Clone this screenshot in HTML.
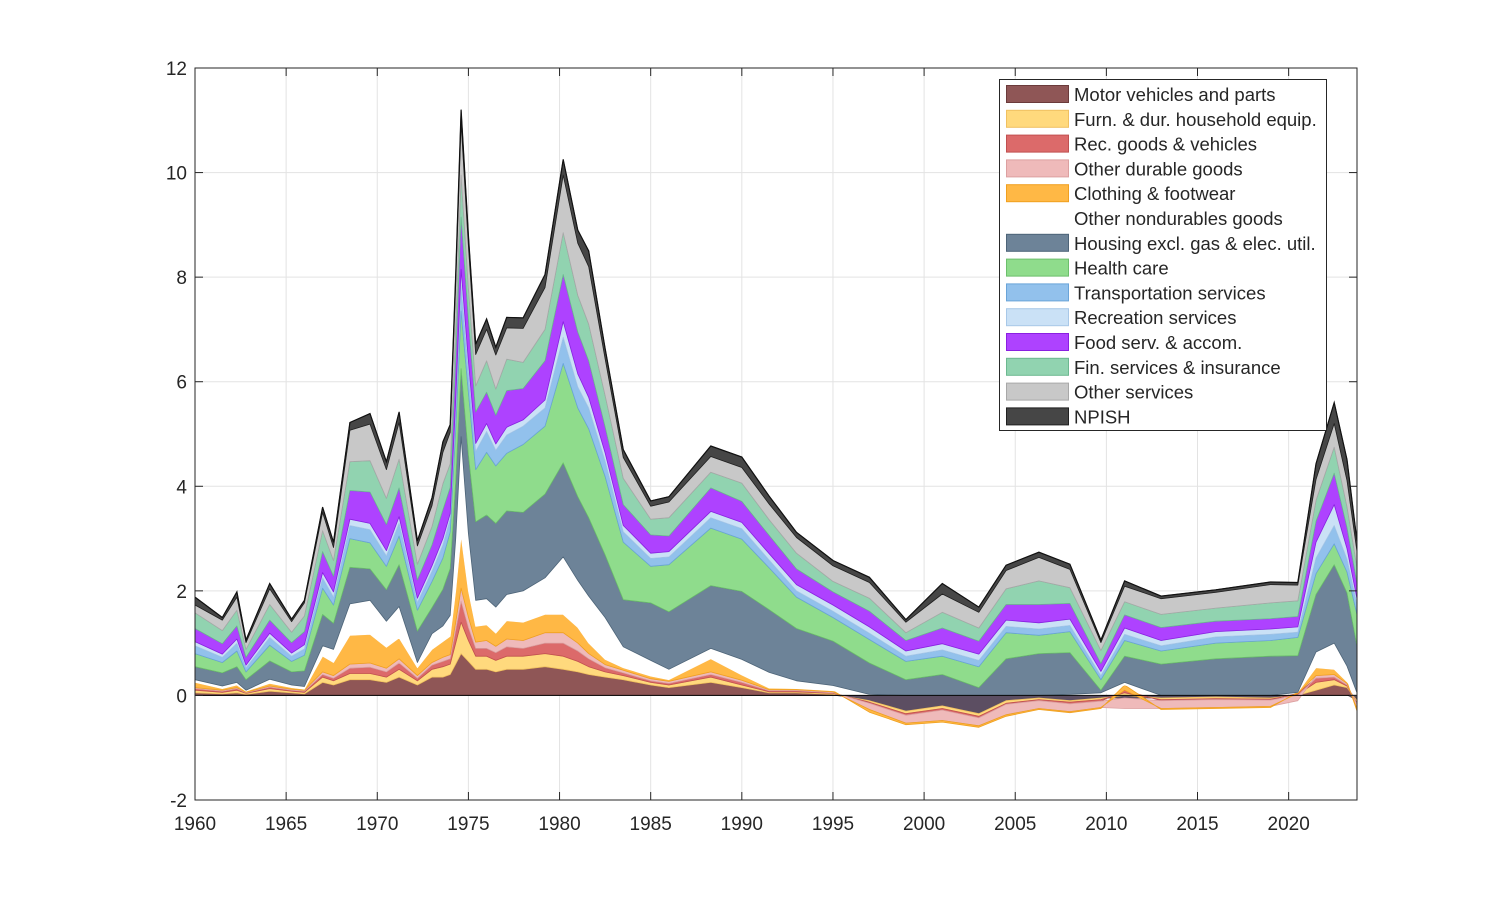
<!DOCTYPE html>
<html><head><meta charset="utf-8"><style>
html,body{margin:0;padding:0;background:#fff;}
svg text{font-family:"Liberation Sans",Arial,sans-serif;fill:#262626;}
</style></head><body>
<svg id="chart" width="1500" height="900" xmlns="http://www.w3.org/2000/svg">
<rect x="0" y="0" width="1500" height="900" fill="#fff"/>
<g id="grid"></g>
<g id="areas"></g>
<g id="axes"></g>
<g id="legend"></g>
</svg>
<script>
const dates=[1960,1961.5,1962.3,1962.8,1964.1,1965.3,1966.0,1967.0,1967.6,1968.5,1969.6,1970.5,1971.2,1972.2,1973.0,1973.6,1974.0,1974.3,1974.6,1975.0,1975.4,1976.0,1976.5,1977.1,1978.0,1979.2,1980.2,1981.0,1981.6,1982.5,1983.5,1985.0,1986.0,1988.3,1990.0,1991.5,1993.0,1995.0,1997.0,1999.0,2001.0,2003.0,2004.5,2006.3,2008.0,2009.7,2011.0,2013.0,2016.0,2019.0,2020.5,2021.5,2022.5,2023.2,2023.75];
const motor=[0.05,0.03,0.05,0.02,0.08,0.05,0.03,0.25,0.2,0.3,0.3,0.25,0.35,0.2,0.35,0.35,0.4,0.6,0.8,0.65,0.5,0.5,0.45,0.5,0.5,0.55,0.5,0.45,0.4,0.35,0.3,0.2,0.15,0.25,0.15,0.05,0.05,0.02,-0.1,-0.3,-0.2,-0.35,-0.1,-0.05,-0.1,-0.05,-0.05,-0.05,-0.03,-0.05,0.0,0.1,0.2,0.15,-0.1];
const furn=[0.05,0.03,0.05,0.02,0.05,0.03,0.03,0.1,0.08,0.12,0.12,0.1,0.15,0.08,0.15,0.2,0.2,0.4,0.6,0.4,0.25,0.25,0.22,0.25,0.25,0.25,0.25,0.2,0.15,0.1,0.08,0.05,0.05,0.1,0.05,0.02,0.02,0.02,-0.03,-0.05,-0.05,-0.05,-0.05,-0.03,-0.03,-0.03,0.05,-0.03,-0.03,-0.02,0.02,0.15,0.1,0.03,-0.05];
const recGoods=[0.03,0.02,0.03,0.01,0.03,0.02,0.02,0.05,0.05,0.1,0.12,0.1,0.12,0.05,0.08,0.1,0.1,0.25,0.4,0.25,0.15,0.15,0.15,0.18,0.15,0.2,0.25,0.2,0.15,0.08,0.05,0.03,0.03,0.05,0.05,0.02,0.02,0.01,-0.02,-0.03,-0.03,-0.03,-0.02,-0.02,-0.03,-0.03,0.05,-0.02,-0.02,-0.02,0.02,0.08,0.05,0.02,-0.02];
const otherDur=[0.02,0.02,0.02,0.01,0.02,0.02,0.02,0.05,0.05,0.08,0.08,0.07,0.08,0.05,0.05,0.08,0.08,0.15,0.25,0.2,0.12,0.15,0.12,0.15,0.15,0.2,0.2,0.15,0.1,0.06,0.05,0.04,0.04,0.05,0.04,0.02,0.02,0.02,-0.12,-0.15,-0.2,-0.15,-0.2,-0.15,-0.15,-0.12,-0.2,-0.15,-0.15,-0.12,-0.1,0.05,0.05,0.03,-0.08];
const clothing=[0.1,0.03,0.05,0.02,0.05,0.03,0.02,0.3,0.25,0.55,0.55,0.4,0.4,0.15,0.25,0.3,0.35,0.6,1.0,0.5,0.3,0.3,0.25,0.35,0.35,0.35,0.35,0.3,0.2,0.1,0.05,0.05,0.03,0.25,0.1,0.03,0.02,0.02,-0.05,-0.03,-0.03,-0.03,-0.03,-0.02,-0.02,-0.02,0.1,-0.02,-0.02,-0.02,0.02,0.15,0.1,0.03,-0.05];
const otherNondur=[0.05,0.05,0.05,0.02,0.08,0.05,0.05,0.2,0.25,0.6,0.65,0.5,0.6,0.1,0.3,0.3,0.4,1.0,1.9,1.1,0.5,0.5,0.5,0.5,0.6,0.7,1.1,0.9,0.9,0.8,0.4,0.3,0.2,0.2,0.3,0.3,0.15,0.1,0.02,0,0,0,0,0,0.02,0.05,0.05,0,0,0,0,0.3,0.5,0.3,0.05];
const housing=[0.25,0.25,0.3,0.2,0.35,0.25,0.3,0.6,0.5,0.7,0.6,0.6,0.8,0.6,0.5,0.7,0.9,1.1,1.3,1.5,1.5,1.6,1.6,1.6,1.5,1.6,1.8,1.6,1.5,1.2,0.9,1.1,1.1,1.2,1.3,1.2,1.0,0.85,0.6,0.3,0.4,0.15,0.7,0.8,0.8,0.05,0.5,0.6,0.7,0.75,0.7,1.1,1.5,1.4,0.9];
const health=[0.25,0.2,0.3,0.15,0.3,0.2,0.3,0.5,0.35,0.55,0.5,0.45,0.55,0.4,0.5,0.6,0.7,1.0,1.1,1.2,1.0,1.2,1.1,1.1,1.3,1.3,1.9,1.7,1.7,1.5,1.1,0.7,0.9,1.1,1.0,0.8,0.6,0.45,0.45,0.35,0.35,0.4,0.5,0.35,0.4,0.2,0.3,0.25,0.3,0.3,0.35,0.4,0.4,0.4,0.6];
const transport=[0.15,0.1,0.15,0.08,0.15,0.1,0.12,0.2,0.15,0.25,0.25,0.2,0.25,0.15,0.2,0.25,0.25,0.35,0.5,0.4,0.35,0.4,0.3,0.35,0.35,0.35,0.5,0.4,0.4,0.3,0.2,0.15,0.15,0.2,0.2,0.15,0.12,0.12,0.12,0.1,0.12,0.12,0.12,0.12,0.12,0.08,0.12,0.1,0.12,0.12,0.1,0.3,0.35,0.25,0.2];
const recServ=[0.08,0.06,0.08,0.05,0.08,0.06,0.08,0.1,0.1,0.12,0.12,0.1,0.12,0.08,0.1,0.12,0.1,0.2,0.3,0.2,0.15,0.15,0.12,0.15,0.12,0.15,0.3,0.25,0.2,0.15,0.12,0.1,0.1,0.12,0.12,0.12,0.12,0.12,0.12,0.1,0.12,0.12,0.12,0.12,0.12,0.08,0.12,0.1,0.1,0.1,0.1,0.3,0.4,0.2,0.1];
const food=[0.25,0.2,0.25,0.15,0.25,0.2,0.25,0.4,0.3,0.55,0.6,0.5,0.55,0.35,0.4,0.55,0.5,0.8,1.0,0.8,0.6,0.6,0.55,0.7,0.6,0.75,0.9,0.8,0.7,0.5,0.4,0.35,0.3,0.45,0.4,0.35,0.3,0.25,0.3,0.2,0.3,0.25,0.3,0.35,0.3,0.15,0.25,0.25,0.2,0.2,0.2,0.4,0.6,0.4,0.3];
const finServ=[0.3,0.25,0.3,0.15,0.3,0.2,0.3,0.4,0.3,0.55,0.6,0.5,0.55,0.3,0.35,0.5,0.45,0.6,0.8,0.6,0.5,0.6,0.5,0.6,0.5,0.6,0.8,0.7,0.7,0.6,0.5,0.3,0.35,0.3,0.35,0.3,0.3,0.2,0.25,0.15,0.3,0.25,0.3,0.45,0.3,0.25,0.25,0.25,0.25,0.3,0.3,0.4,0.5,0.4,0.3];
const otherServ=[0.15,0.2,0.25,0.13,0.3,0.2,0.25,0.35,0.25,0.6,0.7,0.55,0.7,0.35,0.4,0.6,0.6,0.8,1.0,0.8,0.6,0.6,0.65,0.6,0.65,0.8,1.1,1.0,1.1,0.7,0.4,0.25,0.3,0.3,0.3,0.3,0.3,0.3,0.3,0.2,0.35,0.3,0.35,0.45,0.35,0.15,0.3,0.3,0.3,0.35,0.3,0.4,0.45,0.5,0.3];
const npish=[0.15,0.05,0.1,0.05,0.1,0.05,0.05,0.1,0.1,0.15,0.2,0.15,0.2,0.1,0.15,0.2,0.15,0.2,0.25,0.2,0.2,0.2,0.15,0.2,0.2,0.25,0.3,0.25,0.3,0.2,0.15,0.1,0.1,0.2,0.2,0.15,0.1,0.1,0.1,0.05,0.2,0.1,0.1,0.1,0.1,0.05,0.1,0.05,0.05,0.05,0.05,0.3,0.4,0.4,0.2];
const seriesNames=["Motor vehicles and parts","Furn. & dur. household equip.","Rec. goods & vehicles","Other durable goods","Clothing & footwear","Other nondurables goods","Housing excl. gas & elec. util.","Health care","Transportation services","Recreation services","Food serv. & accom.","Fin. services & insurance","Other services","NPISH"];
const xTicks=[1960,1965,1970,1975,1980,1985,1990,1995,2000,2005,2010,2015,2020];
const yTicks=[-2,0,2,4,6,8,10,12];

const series=[motor,furn,recGoods,otherDur,clothing,otherNondur,housing,health,transport,recServ,food,finServ,otherServ,npish];
const colors=["#8f5656","#ffd97d","#dc6a6a","#efbaba","#ffb845","#ffffff","#6d8398","#8fdc8c","#92c1ec","#cae1f6","#ae42ff","#91d3b0","#c8c8c8","#464646"];
const edges=["#6b3b3b","#f0c060","#c05050","#dca0a0","#f0a020","#ffffff","#4d6478","#6cbf6c","#6aa4d8","#a8c8e8","#8a20e0","#6cb890","#a8a8a8","#202020"];
const keys=["motor-vehicles","furn-household-equip","rec-goods","other-durable-goods","clothing-footwear","other-nondurables","housing","health-care","transportation-services","recreation-services","food-services","fin-services","other-services","npish"];

const L=195,R=1357,T=68,B=800,X0=1960,X1=2023.75,Y0=-2,Y1=12;
const sx=v=>L+(v-X0)/(X1-X0)*(R-L);
const sy=v=>B-(v-Y0)/(Y1-Y0)*(B-T);
const NS="http://www.w3.org/2000/svg";
function mk(tag,attrs,parent){const e=document.createElementNS(NS,tag);for(const k in attrs)e.setAttribute(k,attrs[k]);parent.appendChild(e);return e;}

const grid=document.getElementById('grid');
xTicks.forEach(t=>{const l=mk('line',{x1:sx(t),x2:sx(t),y1:T,y2:B,stroke:'#e3e3e3','stroke-width':1},grid);

});
yTicks.forEach(t=>{const l=mk('line',{x1:L,x2:R,y1:sy(t),y2:sy(t),stroke:'#e3e3e3','stroke-width':1},grid);

});

const areas=document.getElementById('areas');
const n=dates.length;
let posBase=new Array(n).fill(0),negBase=new Array(n).fill(0);
series.forEach((s,i)=>{
  const lo=[],hi=[];
  for(let j=0;j<n;j++){
    const v=s[j];
    if(v>=0){lo.push(posBase[j]);hi.push(posBase[j]+v);posBase[j]+=v;}
    else{lo.push(negBase[j]);hi.push(negBase[j]+v);negBase[j]+=v;}
  }
  let d='M'+dates.map((t,j)=>sx(t).toFixed(1)+','+sy(hi[j]).toFixed(1)).join('L');
  for(let j=n-1;j>=0;j--)d+='L'+sx(dates[j]).toFixed(1)+','+sy(lo[j]).toFixed(1);
  d+='Z';
  const p=mk('path',{d:d,fill:colors[i],stroke:edges[i],'stroke-width':0.8,'stroke-linejoin':'round'},areas);
  
  
  if(i===0){
    const hi2=[];
    for(let j=0;j<n;j++){hi2.push(Math.min(s[j],0));}
    let d2='M'+dates.map((t,j)=>sx(t).toFixed(1)+','+sy(hi2[j]).toFixed(1)).join('L');
    for(let j=n-1;j>=0;j--)d2+='L'+sx(dates[j]).toFixed(1)+','+sy(0).toFixed(1);
    d2+='Z';
    const q=mk('path',{d:d2,fill:'#5c4e62',stroke:'none'},areas);
    
    
  }
});
const tl=mk('polyline',{points:dates.map((t,j)=>sx(t).toFixed(1)+','+sy(posBase[j]).toFixed(1)).join(' '),fill:'none',stroke:'#111','stroke-width':1.2},areas);


const zl=mk('line',{x1:L,x2:R,y1:sy(0),y2:sy(0),stroke:'#000','stroke-width':1},areas);



const axes=document.getElementById('axes');
const box=mk('rect',{x:L,y:T,width:R-L,height:B-T,fill:'none',stroke:'#262626','stroke-width':1},axes);


xTicks.forEach(t=>{
  mk('line',{x1:sx(t),x2:sx(t),y1:B,y2:B-8,stroke:'#262626'},axes);
  mk('line',{x1:sx(t),x2:sx(t),y1:T,y2:T+8,stroke:'#262626'},axes);
  const tx=mk('text',{x:sx(t),y:B+30,'text-anchor':'middle','font-size':19},axes);
  tx.textContent=t;
  
  
});
yTicks.forEach(t=>{
  mk('line',{x1:L,x2:L+8,y1:sy(t),y2:sy(t),stroke:'#262626'},axes);
  mk('line',{x1:R,x2:R-8,y1:sy(t),y2:sy(t),stroke:'#262626'},axes);
  const tx=mk('text',{x:L-8,y:sy(t)+7,'text-anchor':'end','font-size':19},axes);
  tx.textContent=t;
  
  
});

const lg=document.getElementById('legend');
const lb=mk('rect',{x:999.5,y:79.5,width:327,height:351,fill:'#fff',stroke:'#262626','stroke-width':1},lg);


seriesNames.forEach((nm,i)=>{
  const y=94+i*24.8;
  const g=mk('g',{},lg);
  
  
  mk('rect',{x:1006.5,y:y-8.5,width:62,height:17,fill:colors[i],stroke:i===5?'#ffffff':edges[i],'stroke-width':1},g);
  const tx=mk('text',{x:1074,y:y+7,'font-size':18.5},g);
  tx.textContent=nm;
});
</script>
</body></html>
